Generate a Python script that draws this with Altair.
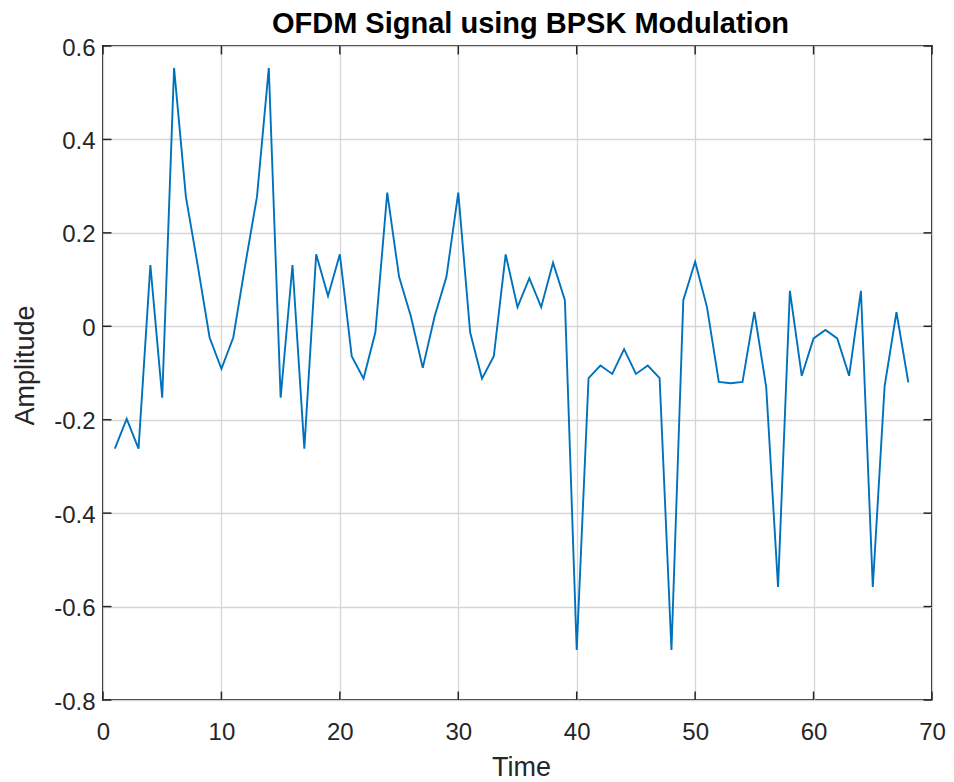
import altair as alt
import pandas as pd

# Data
time = list(range(1, 69))
amplitude = [
    -0.262, -0.198, -0.262, 0.131, -0.153, 0.553, 0.277, 0.130, -0.024, -0.091,
    -0.024, 0.130, 0.277, 0.553, -0.153, 0.131, -0.262, 0.154, 0.065, 0.154,
    -0.064, -0.112, -0.013, 0.286, 0.106, 0.021, -0.089, 0.021, 0.106, 0.286,
    -0.013, -0.112, -0.064, 0.154, 0.041, 0.103, 0.041, 0.136, 0.056, -0.693,
    -0.111, -0.084, -0.102, -0.049, -0.102, -0.084, -0.111, -0.693, 0.056, 0.138,
    0.041, -0.119, -0.122, -0.119, 0.031, -0.130, -0.558, 0.076, -0.106, -0.026,
    -0.008, -0.026, -0.106, 0.076, -0.558, -0.128, 0.030, -0.120,
]
x_ticks = [0, 10, 20, 30, 40, 50, 60, 70]
y_ticks = [-0.8, -0.6, -0.4, -0.2, 0, 0.2, 0.4, 0.6]

W, H = 829, 654
TICK = 8.5
FRAME = "#262626"
FONT = "Liberation Sans"

df = pd.DataFrame({"t": time, "amp": amplitude})
xt = pd.DataFrame({"t": x_ticks})
yt = pd.DataFrame({"amp": y_ticks})

xscale = alt.Scale(domain=[0, 70], nice=False, zero=False)
yscale = alt.Scale(domain=[-0.8, 0.6], nice=False, zero=False)

line = alt.Chart(df).mark_line(color="#0072BD", strokeWidth=1.9).encode(
    x=alt.X("t:Q", scale=xscale,
            axis=alt.Axis(values=x_ticks, title="Time", labelPadding=20,
                          labelFlush=False,
                          titleX=418, titleY=75, titleBaseline="alphabetic",
                          titleAlign="center", titleAngle=0)),
    y=alt.Y("amp:Q", scale=yscale,
            axis=alt.Axis(values=y_ticks, title="Amplitude", labelPadding=8,
                          labelOffset=2, labelFlush=False,
                          labelExpr="replace(format(datum.value, '.1~f'), '\u2212', '-')",
                          titleX=-70, titleY=319, titleAngle=-90,
                          titleBaseline="alphabetic", titleAlign="center")),
)

rule_style = dict(color=FRAME, strokeWidth=1.5)
bottom_ticks = alt.Chart(xt).mark_rule(**rule_style).encode(
    x="t:Q", y=alt.value(H), y2=alt.value(H - TICK))
top_ticks = alt.Chart(xt).mark_rule(**rule_style).encode(
    x="t:Q", y=alt.value(0), y2=alt.value(TICK))
left_ticks = alt.Chart(yt).mark_rule(**rule_style).encode(
    y="amp:Q", x=alt.value(0), x2=alt.value(TICK))
right_ticks = alt.Chart(yt).mark_rule(**rule_style).encode(
    y="amp:Q", x=alt.value(W), x2=alt.value(W - TICK))

chart = alt.layer(line, bottom_ticks, top_ticks, left_ticks, right_ticks).properties(
    width=W, height=H,
    autosize=alt.AutoSizeParams(type="none"),
    padding={"left": 95, "top": 38, "right": 14, "bottom": 80},
    title=alt.TitleParams(
        "OFDM Signal using BPSK Modulation", font=FONT, fontSize=29,
        fontWeight="bold", color="#000000", anchor="middle", frame="group",
        baseline="alphabetic", offset=0, dx=13, dy=26),
).configure_view(
    stroke=FRAME, strokeWidth=2
).configure_axis(
    domain=False, ticks=False, grid=True, gridColor="#d6d6d6", gridWidth=1.3,
    gridOpacity=1, labelFont=FONT, labelFontSize=24, labelColor=FRAME,
    titleFont=FONT, titleFontSize=27, titleFontWeight="normal", titleColor=FRAME,
)

chart.save("out.html", embed_options={"renderer": "svg", "actions": False})
